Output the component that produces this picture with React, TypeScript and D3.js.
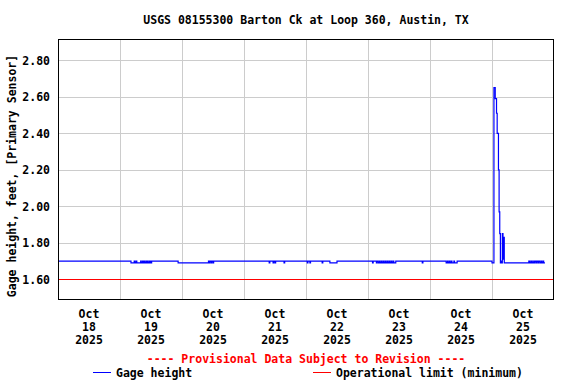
import React, { useEffect, useRef } from "react";
import * as d3 from "d3";

const width = 576;
const height = 384;

const title = "USGS 08155300 Barton Ck at Loop 360, Austin, TX";
const yAxisTitle = "Gage height, feet, [Primary Sensor]";
const provisionalNote = "---- Provisional Data Subject to Revision ----";

// gage height readings (change points only, value holds until the next one)
const readingTimes = [
  "2025-10-18 00:00", "2025-10-19 04:15", "2025-10-19 05:30", "2025-10-19 05:45",
  "2025-10-19 06:15", "2025-10-19 06:30", "2025-10-19 08:00", "2025-10-19 08:15",
  "2025-10-19 08:45", "2025-10-19 09:00", "2025-10-19 09:15", "2025-10-19 09:30",
  "2025-10-19 10:00", "2025-10-19 10:15", "2025-10-19 10:30", "2025-10-19 10:45",
  "2025-10-19 11:15", "2025-10-19 11:30", "2025-10-19 11:45", "2025-10-19 12:00",
  "2025-10-19 12:15", "2025-10-19 22:30", "2025-10-20 10:15", "2025-10-20 10:30",
  "2025-10-20 10:45", "2025-10-20 11:15", "2025-10-20 11:30", "2025-10-20 12:00",
  "2025-10-20 12:15", "2025-10-21 09:45", "2025-10-21 10:00", "2025-10-21 11:15",
  "2025-10-21 11:30", "2025-10-21 12:00", "2025-10-21 12:15", "2025-10-21 15:30",
  "2025-10-21 15:45", "2025-10-22 00:30", "2025-10-22 00:45", "2025-10-22 01:30",
  "2025-10-22 01:45", "2025-10-22 06:15", "2025-10-22 06:30", "2025-10-22 09:15",
  "2025-10-22 12:00", "2025-10-23 01:45", "2025-10-23 02:00", "2025-10-23 03:15",
  "2025-10-23 03:30", "2025-10-23 04:00", "2025-10-23 04:30", "2025-10-23 04:45",
  "2025-10-23 05:15", "2025-10-23 05:30", "2025-10-23 06:00", "2025-10-23 06:15",
  "2025-10-23 06:45", "2025-10-23 07:00", "2025-10-23 07:30", "2025-10-23 07:45",
  "2025-10-23 08:15", "2025-10-23 08:30", "2025-10-23 09:00", "2025-10-23 09:15",
  "2025-10-23 09:45", "2025-10-23 10:00", "2025-10-23 10:45", "2025-10-23 21:00",
  "2025-10-23 21:15", "2025-10-24 06:15", "2025-10-24 06:45", "2025-10-24 07:00",
  "2025-10-24 07:30", "2025-10-24 07:45", "2025-10-24 08:15", "2025-10-24 08:30",
  "2025-10-24 09:15", "2025-10-24 09:30", "2025-10-24 10:30", "2025-10-25 00:00",
  "2025-10-25 00:45", "2025-10-25 01:15", "2025-10-25 01:45", "2025-10-25 02:00",
  "2025-10-25 02:30", "2025-10-25 02:45", "2025-10-25 03:00", "2025-10-25 03:15",
  "2025-10-25 03:30", "2025-10-25 03:45", "2025-10-25 04:00", "2025-10-25 04:15",
  "2025-10-25 04:30", "2025-10-25 04:45", "2025-10-25 14:15", "2025-10-25 14:30",
  "2025-10-25 15:00", "2025-10-25 15:15", "2025-10-25 15:45", "2025-10-25 16:00",
  "2025-10-25 16:30", "2025-10-25 17:00", "2025-10-25 17:15", "2025-10-25 17:45",
  "2025-10-25 18:00", "2025-10-25 18:30", "2025-10-25 19:00", "2025-10-25 19:15",
  "2025-10-25 19:45", "2025-10-25 20:00", "2025-10-25 20:30",
];
const readingValues = [
  1.70, 1.69, 1.70, 1.69,
  1.70, 1.69, 1.70, 1.69,
  1.70, 1.69, 1.70, 1.69,
  1.70, 1.69, 1.70, 1.69,
  1.70, 1.69, 1.70, 1.69,
  1.70, 1.69, 1.70, 1.69,
  1.70, 1.69, 1.70, 1.69,
  1.70, 1.69, 1.70, 1.69,
  1.70, 1.69, 1.70, 1.69,
  1.70, 1.69, 1.70, 1.69,
  1.70, 1.69, 1.70, 1.69,
  1.70, 1.69, 1.70, 1.69,
  1.70, 1.69, 1.70, 1.69,
  1.70, 1.69, 1.70, 1.69,
  1.70, 1.69, 1.70, 1.69,
  1.70, 1.69, 1.70, 1.69,
  1.70, 1.69, 1.70, 1.69,
  1.70, 1.69, 1.70, 1.69,
  1.70, 1.69, 1.70, 1.69,
  1.70, 1.69, 1.70, 1.69,
  2.65, 2.59, 2.51, 2.40,
  2.20, 1.97, 1.85, 1.69,
  1.70, 1.69, 1.85, 1.71,
  1.83, 1.69, 1.70, 1.69,
  1.70, 1.69, 1.70, 1.69,
  1.70, 1.69, 1.70, 1.69,
  1.70, 1.69, 1.70, 1.69,
  1.70, 1.69, 1.69,
];

const operationalLimit = 1.6;
const yTicks = [1.6, 1.8, 2.0, 2.2, 2.4, 2.6, 2.8];
const dayTicks = [
  "2025-10-18", "2025-10-19", "2025-10-20", "2025-10-21", "2025-10-22",
  "2025-10-23", "2025-10-24", "2025-10-25", "2025-10-26",
];

const legendItems = [
  { title: "Gage height", color: "#0000ff", x: 93 },
  { title: "Operational limit (minimum)", color: "#ff0000", x: 313 },
];

const FONT = "'DejaVu Sans Mono', 'Liberation Mono', monospace";
const FONT_SIZE = 11.5;

const margin = { top: 39, right: 22, bottom: 84, left: 58 };

const GageChart = () => {
  const chart = useRef<SVGSVGElement | null>(null);

  useEffect(() => {
    const svg = d3.select(chart.current);
    svg.selectAll("*").remove();

    const parseTime = d3.timeParse("%Y-%m-%d %H:%M");
    const parseDay = d3.timeParse("%Y-%m-%d");
    const days = dayTicks.map((d) => parseDay(d) as Date);
    const data = readingTimes.map((t, i) => ({
      time: parseTime(t) as Date,
      value: readingValues[i],
    }));

    const x0 = margin.left;
    const x1 = width - margin.right;
    const y0 = height - margin.bottom;
    const y1 = margin.top;

    const x = d3.scaleTime().domain([days[0], days[days.length - 1]]).range([x0, x1]);
    const y = d3.scaleLinear().domain([1.4866, 2.917]).range([y0, y1]);

    svg.append("rect").attr("width", width).attr("height", height).attr("fill", "#fff");

    // title
    svg
      .append("text")
      .attr("x", 306)
      .attr("y", 20)
      .attr("text-anchor", "middle")
      .attr("dominant-baseline", "middle")
      .attr("font-family", FONT)
      .attr("font-weight", 700)
      .attr("font-size", FONT_SIZE)
      .text(title);

    // grid
    const grid = svg.append("g").attr("stroke", "#cccccc").attr("stroke-width", 1);
    grid
      .selectAll("line.h")
      .data(yTicks)
      .join("line")
      .attr("class", "h")
      .attr("x1", x0)
      .attr("x2", x1)
      .attr("y1", (d) => Math.round(y(d)) + 0.5)
      .attr("y2", (d) => Math.round(y(d)) + 0.5);
    grid
      .selectAll("line.v")
      .data(days.slice(1, -1))
      .join("line")
      .attr("class", "v")
      .attr("x1", (d) => Math.round(x(d)) + 0.5)
      .attr("x2", (d) => Math.round(x(d)) + 0.5)
      .attr("y1", y1)
      .attr("y2", y0);

    // operational limit
    svg
      .append("line")
      .attr("x1", x0)
      .attr("x2", x1)
      .attr("y1", Math.round(y(operationalLimit)) + 0.5)
      .attr("y2", Math.round(y(operationalLimit)) + 0.5)
      .attr("stroke", legendItems[1].color)
      .attr("stroke-width", 1);

    // gage height
    const line = d3
      .line<{ time: Date; value: number }>()
      .x((d) => x(d.time))
      .y((d) => y(d.value))
      .curve(d3.curveStepAfter);
    svg
      .append("path")
      .datum(data)
      .attr("d", line)
      .attr("fill", "none")
      .attr("stroke", legendItems[0].color)
      .attr("stroke-width", 1.2);

    // frame
    svg
      .append("rect")
      .attr("x", x0 + 0.5)
      .attr("y", y1 + 0.5)
      .attr("width", x1 - x0 - 1)
      .attr("height", y0 - y1 - 1)
      .attr("fill", "none")
      .attr("stroke", "#000")
      .attr("stroke-width", 1);

    // y tick labels
    svg
      .append("g")
      .selectAll("text")
      .data(yTicks)
      .join("text")
      .attr("x", x0 - 8)
      .attr("y", (d) => y(d) + 1)
      .attr("text-anchor", "end")
      .attr("dominant-baseline", "middle")
      .attr("font-family", FONT)
      .attr("font-weight", 700)
      .attr("font-size", FONT_SIZE)
      .text((d) => d3.format(".2f")(d));

    svg
      .append("text")
      .attr("transform", `translate(12,176) rotate(-90)`)
      .attr("text-anchor", "middle")
      .attr("dominant-baseline", "middle")
      .attr("font-family", FONT)
      .attr("font-weight", 700)
      .attr("font-size", FONT_SIZE)
      .text(yAxisTitle);

    // x tick labels at noon of each day
    const fmtMonth = d3.timeFormat("%b");
    const fmtDay = d3.timeFormat("%d");
    const fmtYear = d3.timeFormat("%Y");
    const dayLabels = svg
      .append("g")
      .selectAll("g")
      .data(days.slice(0, -1))
      .join("g")
      .attr("transform", (d) => `translate(${x(d3.timeHour.offset(d, 12))},0)`)
      .attr("font-family", FONT)
      .attr("font-weight", 700)
      .attr("font-size", FONT_SIZE)
      .attr("text-anchor", "middle");
    [fmtMonth, fmtDay, fmtYear].forEach((fmt, i) => {
      dayLabels
        .append("text")
        .attr("y", 314 + i * 13)
        .attr("dominant-baseline", "middle")
        .text((d) => fmt(d));
    });

    // provisional note
    svg
      .append("text")
      .attr("x", 306)
      .attr("y", 359)
      .attr("text-anchor", "middle")
      .attr("dominant-baseline", "middle")
      .attr("font-family", FONT)
      .attr("font-weight", 700)
      .attr("font-size", FONT_SIZE)
      .attr("fill", "#ff0000")
      .text(provisionalNote);

    // legend
    const legend = svg
      .append("g")
      .selectAll("g")
      .data(legendItems)
      .join("g")
      .attr("transform", (d) => `translate(${d.x},373)`);
    legend
      .append("line")
      .attr("x1", 0)
      .attr("x2", 18)
      .attr("y1", -0.5)
      .attr("y2", -0.5)
      .attr("stroke", (d) => d.color)
      .attr("stroke-width", 1);
    legend
      .append("text")
      .attr("x", 23)
      .attr("y", 0)
      .attr("dominant-baseline", "middle")
      .attr("font-family", FONT)
      .attr("font-weight", 700)
      .attr("font-size", FONT_SIZE)
      .text((d) => d.title);
  }, []);

  return (
    <svg
      ref={chart}
      width={width}
      height={height}
      viewBox={`0 0 ${width} ${height}`}
      style={{ position: "absolute", left: 0, top: 0, display: "block" }}></svg>
  );
};

export default function App() {
  return <GageChart />;
}
